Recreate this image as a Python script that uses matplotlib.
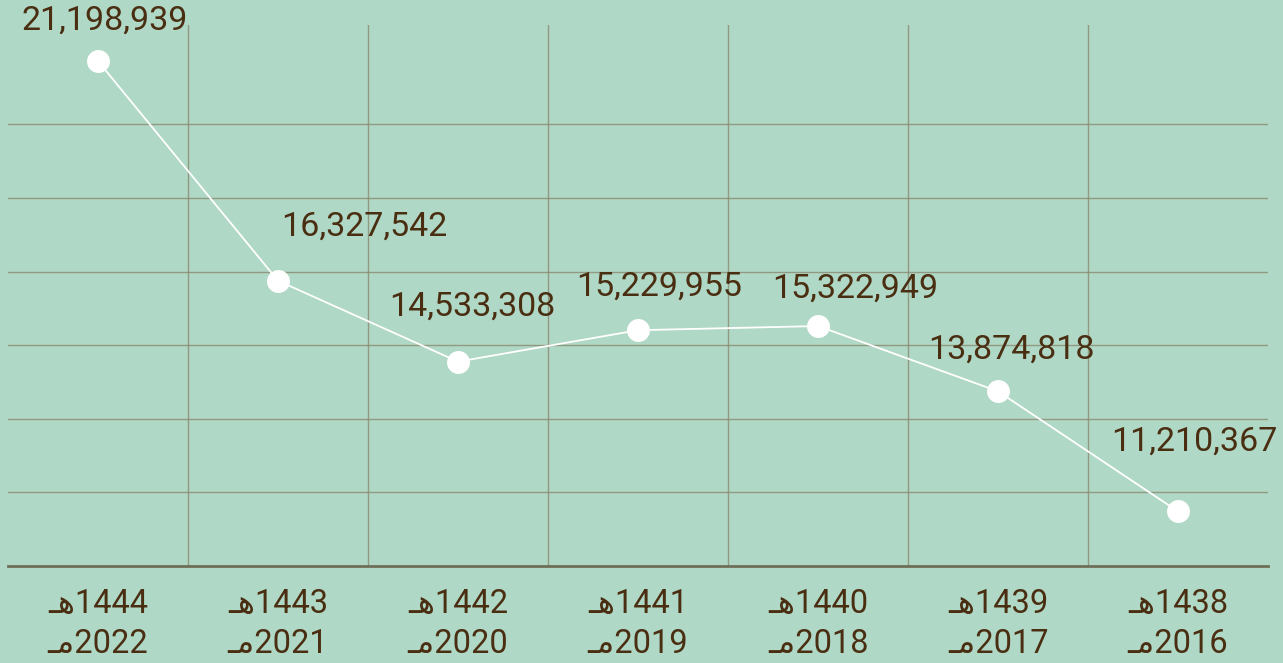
import numpy as np
import matplotlib
matplotlib.use('Agg')
import matplotlib.pyplot as plt

plt.rcParams['font.family'] = ['Roboto', 'DejaVu Sans']

# data
hijri = ['1444', '1443', '1442', '1441', '1440', '1439', '1438']
greg = ['2022', '2021', '2020', '2019', '2018', '2017', '2016']
values = [21198939, 16327542, 14533308, 15229955, 15322949, 13874818, 11210367]

# label offsets in pixels (dx, dy)
offsets = [(7, 40), (86, 54), (14, 55), (21, 44), (37, 37), (13, 42), (16, 70)]

bg = '#b0d8c6'
txt = '#4a2e12'
grid = '#8a8a70'

fig = plt.figure(figsize=(12.83, 6.63), dpi=100, facecolor=bg)
ax = fig.add_axes([8 / 1283, 97 / 663, 1260 / 1283, 541 / 663])
ax.set_facecolor(bg)

x = np.arange(len(values))
ax.plot(x, values, color='white', lw=1.3, marker='o', markersize=15.5,
        markerfacecolor='white', markeredgecolor='white', zorder=3)

for xi, v, (dx, dy) in zip(x, values, offsets):
    ax.annotate(f'{v:,}', (xi, v), xytext=(dx, dy), textcoords='offset pixels',
                ha='center', va='center', fontsize=24.5, color=txt, zorder=4)

ax.set_xlim(-0.5, len(values) - 0.5)
ax.set_ylim(10e6, 22e6)

step = 1.633e6
ax.set_yticks([10e6 + k * step for k in range(1, 7)])
ax.set_yticklabels([])
ax.set_xticks(x)
ax.set_xticklabels(['\u0640\ufeeb' + h + '\n' + '\u0640\ufee3' + g for h, g in zip(hijri, greg)],
                   fontsize=23.5, color=txt, linespacing=1.3)
ax.set_xticks(x[:-1] + 0.5, minor=True)
ax.tick_params(axis='both', which='both', length=0)
ax.tick_params(axis='x', pad=16)

ax.grid(axis='y', which='major', color=grid, lw=1, alpha=0.8)
ax.grid(axis='x', which='minor', color=grid, lw=1, alpha=0.8)
ax.set_axisbelow(True)

for s in ['top', 'right', 'left']:
    ax.spines[s].set_visible(False)
ax.spines['bottom'].set_color('#6f6f58')
ax.spines['bottom'].set_linewidth(2)

fig.savefig('out.png', dpi=100, facecolor=bg)
